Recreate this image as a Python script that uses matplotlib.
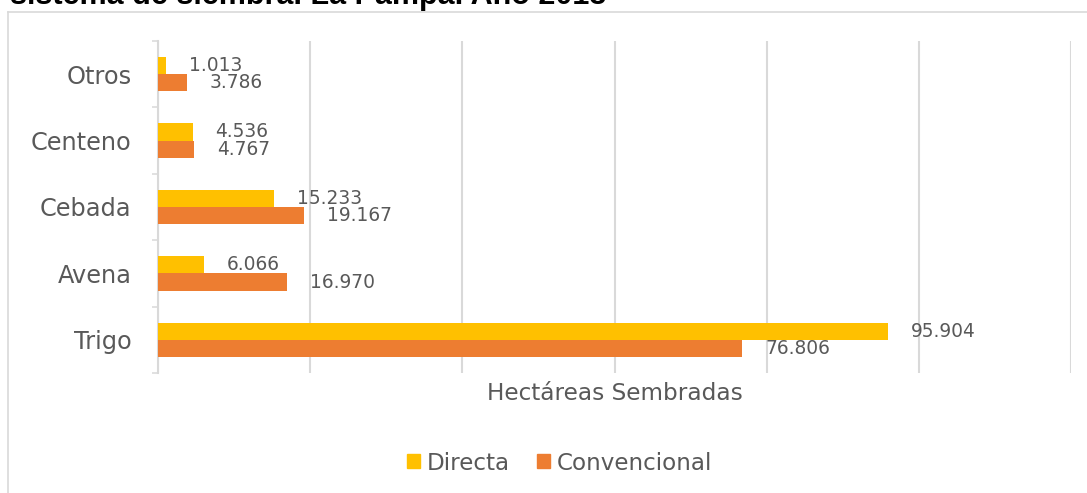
import matplotlib
matplotlib.use("Agg")
import matplotlib.pyplot as plt
from matplotlib.patches import Patch
from matplotlib.lines import Line2D
from matplotlib.ticker import MultipleLocator

categories = ["Trigo", "Avena", "Cebada", "Centeno", "Otros"]
directa = [95904, 6066, 15233, 4536, 1013]
convencional = [76806, 16970, 19167, 4767, 3786]
series_names = ["Directa", "Convencional"]
x_label = "Hectáreas Sembradas"
title = "sistema de siembra. La Pampa. Año 2013"

C_DIR = "#FFC000"
C_CONV = "#ED7D31"
GRID = "#D9D9D9"
TXT = "#595959"

W, H = 1087, 493
fig = plt.figure(figsize=(W / 100, H / 100), dpi=100)
plt.rcParams['font.family'] = ['DejaVu Sans']

def fx(px):
    return px / W

def fy(py):
    return 1 - py / H

# outer chart border (top and left edges only visible)
fig.add_artist(Line2D([fx(8), fx(1100)], [fy(12), fy(12)], transform=fig.transFigure,
                      color=GRID, lw=1.2, zorder=0))
fig.add_artist(Line2D([fx(8), fx(8)], [fy(12), fy(520)], transform=fig.transFigure,
                      color=GRID, lw=1.2, zorder=0))

# title, cut off at the top edge as in the reference
fig.text(fx(10), fy(4), title, ha="left", va="baseline", fontsize=22,
         fontweight="bold", color="black", family=["Liberation Sans", "DejaVu Sans"])

ax = fig.add_axes([fx(158), fy(373), fx(1071) - fx(158), fy(41) - fy(373)])

ypos = list(range(len(categories)))
h = 0.26
ax.barh([y + h / 2 for y in ypos], directa, height=h, color=C_DIR, zorder=3)
ax.barh([y - h / 2 for y in ypos], convencional, height=h, color=C_CONV, zorder=3)

def fmt(v):
    return f"{v:,}".replace(",", ".")

for y, v in zip(ypos, directa):
    ax.annotate(fmt(v), (v, y + h / 2), xytext=(23, 0), textcoords="offset pixels",
                ha="left", va="center", fontsize=13.4, color=TXT, zorder=4)
for y, v in zip(ypos, convencional):
    ax.annotate(fmt(v), (v, y - h / 2), xytext=(23, 0), textcoords="offset pixels",
                ha="left", va="center", fontsize=13.4, color=TXT, zorder=4)

ax.set_xlim(0, 120000)
ax.set_ylim(-0.5, len(categories) - 0.5)
ax.xaxis.set_major_locator(MultipleLocator(20000))
ax.grid(axis="x", color=GRID, lw=1.5, zorder=0)
ax.tick_params(axis="x", length=0, labelbottom=False)

ax.set_yticks(ypos)
ax.set_yticklabels(categories, fontsize=17.3, color=TXT)
ax.set_yticks([y - 0.5 for y in range(len(categories) + 1)], minor=True)
ax.tick_params(axis="y", which="major", length=0, pad=19)
ax.tick_params(axis="y", which="minor", length=4.3, width=1.1, color=GRID, direction="out")

for s in ["top", "right", "bottom"]:
    ax.spines[s].set_visible(False)
ax.spines["left"].set_color(GRID)
ax.spines["left"].set_linewidth(1.5)
ax.set_facecolor("none")

fig.text(fx(614.5), fy(393), x_label, ha="center", va="center", fontsize=16.7, color=TXT)

handles = [Patch(color=C_DIR, label=series_names[0]), Patch(color=C_CONV, label=series_names[1])]
fig.legend(handles=handles, loc="center", bbox_to_anchor=(fx(559.5), fy(463)), ncol=2,
           frameon=False, fontsize=16.6, handlelength=0.56, handleheight=0.56,
           handletextpad=0.3, columnspacing=1.2, borderpad=0, labelcolor=TXT)

fig.savefig("out.png", dpi=100)
